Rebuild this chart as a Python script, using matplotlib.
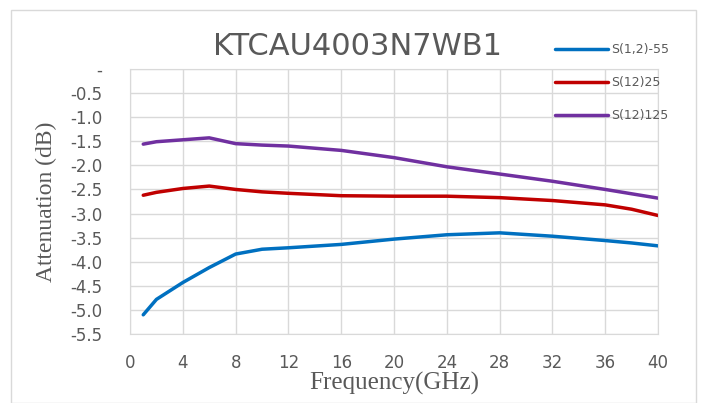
import matplotlib
matplotlib.use("Agg")
import matplotlib.pyplot as plt
from matplotlib.patches import Rectangle

freq = [1, 2, 4, 6, 8, 10, 12, 16, 20, 24, 28, 32, 36, 38, 40]
s12_m55 = [-5.10, -4.78, -4.43, -4.12, -3.84, -3.74, -3.71, -3.64, -3.53, -3.44, -3.40, -3.47, -3.56, -3.61, -3.67]
s12_25 = [-2.62, -2.56, -2.48, -2.43, -2.50, -2.55, -2.58, -2.63, -2.64, -2.64, -2.67, -2.73, -2.82, -2.91, -3.04]
s12_125 = [-1.56, -1.51, -1.47, -1.43, -1.55, -1.58, -1.60, -1.69, -1.84, -2.03, -2.18, -2.33, -2.50, -2.59, -2.68]
series_names = ["S(1,2)-55", "S(12)25", "S(12)125"]
colors = ["#0070C0", "#C00000", "#7030A0"]
xticks = [0, 4, 8, 12, 16, 20, 24, 28, 32, 36, 40]
yticks = [0, -0.5, -1.0, -1.5, -2.0, -2.5, -3.0, -3.5, -4.0, -4.5, -5.0, -5.5]
ytick_labels = ["-", "-0.5", "-1.0", "-1.5", "-2.0", "-2.5", "-3.0", "-3.5", "-4.0", "-4.5", "-5.0", "-5.5"]

fig = plt.figure(figsize=(7.03, 4.03), dpi=100)
fig.patches.append(Rectangle((0.015, 0.0), 0.975, 0.975, transform=fig.transFigure,
                             fill=False, edgecolor="#D9D9D9", linewidth=1))
ax = fig.add_axes([0.185, 0.171, 0.751, 0.658])

for ys, name, c in zip([s12_m55, s12_25, s12_125], series_names, colors):
    ax.plot(freq, ys, color=c, linewidth=2.5, label=name, solid_capstyle="round")

ax.set_xlim(0, 40)
ax.set_ylim(-5.5, 0)
ax.set_xticks(xticks)
ax.set_yticks(yticks)
ax.set_yticklabels(ytick_labels)
ax.grid(True, color="#D9D9D9", linewidth=1)
ax.set_axisbelow(True)
for s in ax.spines.values():
    s.set_color("#D9D9D9")
ax.tick_params(length=0, labelsize=12, labelcolor="#595959")
ax.tick_params(axis="y", pad=20)
ax.tick_params(axis="x", pad=14)

ax.set_xlabel("Frequency(GHz)", family="Liberation Serif", fontsize=18, color="#595959", labelpad=0)
ax.set_ylabel("Attenuation (dB)", family="Liberation Serif", fontsize=17, color="#595959", labelpad=9)
fig.text(0.508, 0.885, "KTCAU4003N7WB1", ha="center", va="center", fontsize=22, color="#595959")

leg = ax.legend(loc="upper left", bbox_to_anchor=(0.783, 1.14), frameon=False, fontsize=9,
                handlelength=4.3, handletextpad=0.2, labelspacing=1.6, labelcolor="#595959")

fig.savefig("out.png", dpi=100)
